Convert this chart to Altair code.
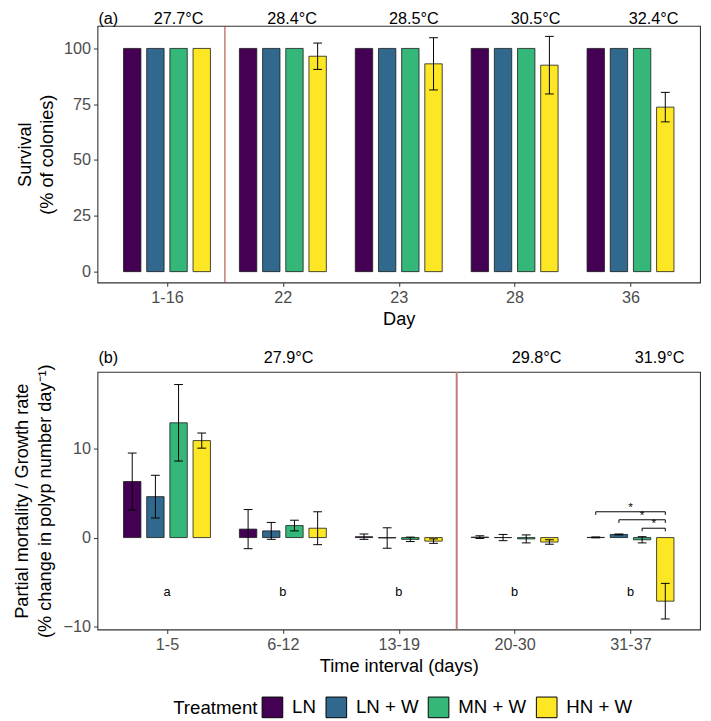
import altair as alt
import pandas as pd

# ---------------- data ----------------
treatments = ["LN", "LN + W", "MN + W", "HN + W"]
colors = ["#440154", "#31688E", "#35B779", "#FDE725"]

# panel (a) survival
days = ["1-16", "22", "23", "28", "36"]
surv_LN = [100, 100, 100, 100, 100]
surv_LNW = [100, 100, 100, 100, 100]
surv_MNW = [100, 100, 100, 100, 100]
surv_HNW = [100, 96.5, 93.1, 92.5, 73.7]
se_surv_LN = [0, 0, 0, 0, 0]
se_surv_LNW = [0, 0, 0, 0, 0]
se_surv_MNW = [0, 0, 0, 0, 0]
se_surv_HNW = [0, 5.9, 11.7, 12.9, 6.6]
temps_a = ["27.7°C", "28.4°C", "28.5°C", "30.5°C", "32.4°C"]
temps_a_pos = [1.10, 2.08, 3.13, 4.18, 5.20]
divider_a = [1.5]

# panel (b) partial mortality / growth
intervals = ["1-5", "6-12", "13-19", "20-30", "31-37"]
grow_LN = [6.3, 0.95, 0.1, 0.05, 0.02]
grow_LNW = [4.6, 0.75, -0.05, 0.0, 0.35]
grow_MNW = [12.9, 1.35, -0.2, -0.15, -0.25]
grow_HNW = [10.9, 1.05, -0.4, -0.5, -7.15]
se_grow_LN = [3.2, 2.2, 0.3, 0.15, 0.05]
se_grow_LNW = [2.4, 0.95, 1.15, 0.35, 0.05]
se_grow_MNW = [4.3, 0.6, 0.25, 0.45, 0.35]
se_grow_HNW = [0.85, 1.85, 0.25, 0.25, 2.0]
letters = ["a", "b", "b", "b", "b"]
letters_y = -6.1
temps_b = ["27.9°C", "29.8°C", "31.9°C"]
temps_b_pos = [2.05, 4.19, 5.25]
divider_b = [3.5]
# significance brackets in interval 31-37 (treatment index from -> to)
sig_group = 5
sig_from = [0, 1, 2]
sig_to = [3, 3, 3]
sig_y = [2.9, 2.0, 1.05]
sig_drop = 0.35

# ---------------- layout constants ----------------
SLOT = 0.2
BAR_HALF = 0.075
CAP_HALF = 0.038
FONT = "Liberation Sans"


def make_df(series, ses):
    rows = []
    for t, (vals, errs) in enumerate(zip(series, ses)):
        for g, (v, e) in enumerate(zip(vals, errs), start=1):
            xc = g + (t - 1.5) * SLOT
            rows.append(dict(treatment=treatments[t], g=g, xc=xc,
                             x0=xc - BAR_HALF, x1=xc + BAR_HALF,
                             cl=xc - CAP_HALF, cr=xc + CAP_HALF,
                             value=v, se=e, lo=v - e, hi=v + e))
    return pd.DataFrame(rows)


df_a = make_df([surv_LN, surv_LNW, surv_MNW, surv_HNW],
               [se_surv_LN, se_surv_LNW, se_surv_MNW, se_surv_HNW])
df_b = make_df([grow_LN, grow_LNW, grow_MNW, grow_HNW],
               [se_grow_LN, se_grow_LNW, se_grow_MNW, se_grow_HNW])

color_enc = alt.Color(
    "treatment:N",
    scale=alt.Scale(domain=treatments, range=colors),
    legend=alt.Legend(
        title="Treatment", orient="none", legendX=77, legendY=682,
        direction="horizontal", columns=4, titleOrient="left",
        symbolType="square", symbolSize=441, symbolStrokeColor="black",
        symbolStrokeWidth=1, symbolOpacity=1,
        labelFontSize=19, titleFontSize=19, titleFontWeight="normal",
        labelFont=FONT, titleFont=FONT, labelColor="black", titleColor="black",
        labelOffset=9, columnPadding=7, titlePadding=4,
    ),
)


def label_expr(labels):
    arr = "[" + ",".join("'%s'" % s for s in labels) + "]"
    return "%s[datum.value - 1]" % arr


def panel(df, cats, xtitle, ytitle, ydomain, yticks, height, temps, temps_pos,
          tag, divider, divider_color, divider_width, title_pad, text_y):
    xs = alt.Scale(domain=[0.4, 5.6], nice=False, zero=False)
    ys = alt.Scale(domain=ydomain, nice=False, zero=False)
    xaxis = alt.Axis(values=[1, 2, 3, 4, 5], labelExpr=label_expr(cats),
                     title=xtitle, titlePadding=4)
    yaxis = alt.Axis(values=yticks, title=ytitle, titlePadding=title_pad)
    base = alt.Chart(df)
    bars = base.mark_bar(stroke="#1a1a1a", strokeWidth=0.8, opacity=1).encode(
        x=alt.X("x0:Q", scale=xs, axis=xaxis),
        x2="x1:Q",
        y=alt.Y("value:Q", scale=ys, axis=yaxis),
        y2=alt.datum(0),
        color=color_enc,
    )
    eb = base.transform_filter("datum.se > 0")
    err_v = eb.mark_rule(color="black", strokeWidth=1).encode(
        x="xc:Q", y="lo:Q", y2="hi:Q")
    err_lo = eb.mark_rule(color="black", strokeWidth=1).encode(
        x="cl:Q", x2="cr:Q", y="lo:Q")
    err_hi = eb.mark_rule(color="black", strokeWidth=1).encode(
        x="cl:Q", x2="cr:Q", y="hi:Q")
    div = alt.Chart(pd.DataFrame({"pos": divider})).mark_rule(
        color=divider_color, strokeWidth=divider_width).encode(x="pos:Q")
    tdf = pd.DataFrame({"label": temps, "pos": temps_pos})
    temp_txt = alt.Chart(tdf).mark_text(
        fontSize=16.5, font=FONT, color="black", baseline="middle").encode(
        x="pos:Q", y=alt.value(text_y), text="label:N")
    tag_txt = alt.Chart(pd.DataFrame({"label": [tag]})).mark_text(
        fontSize=16.5, font=FONT, color="black", align="left",
        baseline="middle").encode(x=alt.value(1), y=alt.value(text_y),
                                  text="label:N")
    return [bars, div, err_v, err_lo, err_hi, temp_txt, tag_txt], dict(
        width=613, height=height)


layers_a, props_a = panel(
    df_a, days, "Day", ["Survival", "(% of colonies)"], [-4.85, 110.1],
    [0, 25, 50, 75, 100], 261, temps_a, temps_a_pos, "(a)", divider_a,
    "#a83a32", 1, 7, -7)
chart_a = alt.layer(*layers_a).properties(**props_a)

layers_b, props_b = panel(
    df_b, intervals, "Time interval (days)",
    ["Partial mortality / Growth rate", "(% change in polyp number day\u207b\u00b9)"],
    [-10.33, 18.62], [-10, 0, 10], 262, temps_b, temps_b_pos, "(b)",
    divider_b, "#c07a78", 2, 9, -14)

# letters
ldf = pd.DataFrame({"g": list(range(1, 6)), "letter": letters,
                    "y": [letters_y] * 5})
let_txt = alt.Chart(ldf).mark_text(fontSize=13, font=FONT, color="black",
                                   baseline="middle").encode(
    x="g:Q", y="y:Q", text="letter:N")

# significance brackets
rows_h, rows_v, rows_s = [], [], []
for f, t, yy in zip(sig_from, sig_to, sig_y):
    xf = sig_group + (f - 1.5) * SLOT
    xt = sig_group + (t - 1.5) * SLOT
    rows_h.append(dict(xa=xf, xb=xt, y=yy))
    rows_v.append(dict(x=xf, ya=yy, yb=yy - sig_drop))
    rows_v.append(dict(x=xt, ya=yy, yb=yy - sig_drop))
    rows_s.append(dict(x=(xf + xt) / 2, y=yy, s="*"))
br_h = alt.Chart(pd.DataFrame(rows_h)).mark_rule(color="black", strokeWidth=1).encode(
    x="xa:Q", x2="xb:Q", y="y:Q")
br_v = alt.Chart(pd.DataFrame(rows_v)).mark_rule(color="black", strokeWidth=1).encode(
    x="x:Q", y="ya:Q", y2="yb:Q")
br_s = alt.Chart(pd.DataFrame(rows_s)).mark_text(
    fontSize=12, font=FONT, color="black", baseline="alphabetic", dy=-1).encode(
    x="x:Q", y="y:Q", text="s:N")

chart_b = alt.layer(*layers_b, let_txt, br_h, br_v, br_s).properties(**props_b)

chart = alt.vconcat(chart_a, chart_b, spacing=91, bounds="flush").resolve_scale(
    x="independent", y="independent", color="shared"
).properties(
    padding={"left": 4, "top": -4, "right": 2, "bottom": 0},
    background="white",
).configure_view(
    stroke="#333333", strokeWidth=1.1
).configure_axis(
    grid=False, domain=False, tickColor="#333333", tickSize=4, tickWidth=1,
    labelFont=FONT, labelFontSize=16.5, labelColor="#4D4D4D", labelPadding=3,
    titleFont=FONT, titleFontSize=18.5, titleFontWeight="normal",
    titleColor="black", titleLineHeight=23,
)

chart.save("out.html", embed_options={"renderer": "svg", "actions": False})
